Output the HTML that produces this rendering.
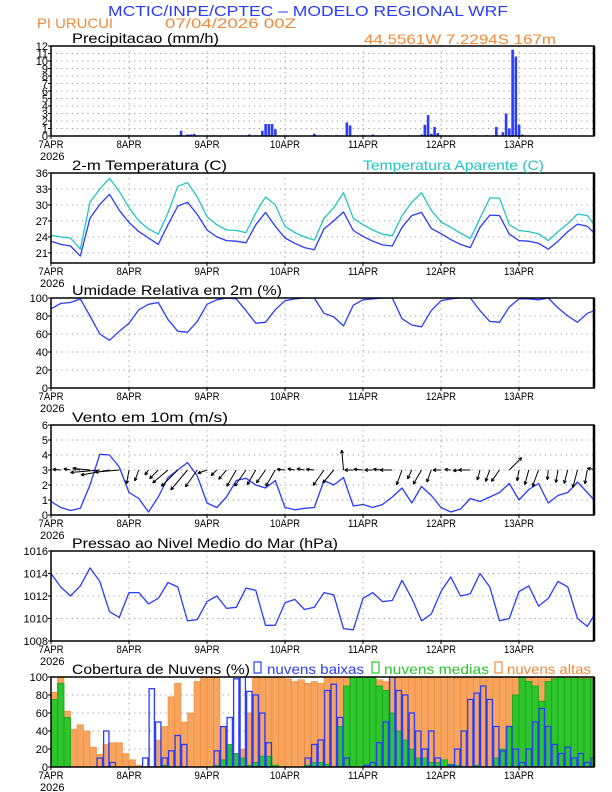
<!DOCTYPE html>
<html><head><meta charset="utf-8">
<style>
html,body{margin:0;padding:0;background:#fff;}
svg{display:block;font-family:"Liberation Sans",sans-serif;}
</style></head>
<body>
<svg id="chart" width="612" height="792" viewBox="0 0 612 792" xmlns="http://www.w3.org/2000/svg">
<rect x="0" y="0" width="612" height="792" fill="#fff"/>
<text x="108" y="16" font-size="15" fill="#2a3cff" textLength="400" lengthAdjust="spacingAndGlyphs">MCTIC/INPE/CPTEC – MODELO REGIONAL WRF</text>
<text x="37" y="28" font-size="14" fill="#f08a3a" textLength="76" lengthAdjust="spacingAndGlyphs">PI URUCUI</text>
<text x="165" y="28" font-size="14" fill="#f08a3a" textLength="131" lengthAdjust="spacingAndGlyphs">07/04/2026 00Z</text>
<text x="364" y="44" font-size="14" fill="#f08a3a" textLength="192" lengthAdjust="spacingAndGlyphs">44.5561W 7.2294S 167m</text>
<g id="g"></g>
</svg>
<script>
// ---------- data ----------
const days = ["7APR","8APR","9APR","10APR","11APR","12APR","13APR"];
// 3-hourly series (hours 0,3,...,168)
const temp = [23.2,22.6,22.3,20.4,27.5,30.1,32.0,29.0,26.7,25.0,23.8,22.6,26.3,29.8,30.5,28.2,25.3,24.0,23.3,23.2,22.9,26.3,28.6,26.0,23.8,22.8,22.0,21.6,25.5,27.0,28.7,25.2,24.1,23.2,22.5,22.3,25.8,28.0,28.6,25.6,24.6,23.5,22.6,22.0,25.8,28.1,28.0,24.5,23.3,23.2,22.8,21.7,23.2,25.0,26.4,26.0,24.2];
const tempAparente = [24.3,24.0,23.8,21.7,30.5,33.0,35.0,32.5,29.5,27.0,25.5,24.5,28.5,33.5,34.2,31.5,27.8,26.3,25.3,25.2,24.8,28.5,31.5,30.0,26.0,24.8,24.0,23.4,27.5,29.5,32.3,27.5,26.3,25.3,24.5,24.2,28.0,30.5,32.3,29.0,26.8,25.8,24.7,23.7,27.5,31.3,31.3,26.3,25.2,25.0,24.6,23.3,25.0,26.5,28.3,28.0,25.6];
const umidade = [88,94,95,99,80,60,53,63,72,87,93,95,76,63,62,74,93,98,100,99,86,72,73,87,97,99,100,100,83,79,69,92,98,99,100,100,77,70,68,86,97,99,100,100,86,74,73,90,99,99,98,100,89,80,73,83,87];
const vento = [0.9,0.5,0.3,0.45,2.0,4.05,4.0,3.2,1.5,1.1,0.2,1.2,2.5,3.0,3.5,2.6,0.8,0.5,1.2,2.3,2.45,2.0,1.8,2.3,0.5,0.35,0.45,0.5,2.3,2.0,2.5,0.6,0.7,0.5,0.7,1.2,1.8,0.8,1.9,1.3,0.5,0.2,0.4,1.1,0.9,1.2,1.5,2.1,1.0,1.7,2.1,0.8,1.3,1.5,2.2,1.5,0.8];
const ventoDir = [170,175,170,165,175,185,190,185,260,250,235,225,220,225,230,235,200,225,230,240,235,240,235,240,175,170,170,175,235,230,95,180,175,180,175,180,250,245,240,250,180,175,185,180,255,250,235,45,260,255,250,265,260,255,255,260,170];
const pressao = [1014.0,1012.8,1012.0,1012.9,1014.5,1013.3,1010.6,1010.1,1012.3,1012.3,1011.3,1011.8,1013.2,1012.8,1009.8,1009.9,1011.5,1012.0,1010.9,1011.0,1012.7,1012.5,1009.4,1009.4,1011.4,1011.7,1010.8,1011.0,1012.3,1012.1,1009.1,1009.0,1011.8,1012.3,1011.5,1011.6,1013.4,1011.8,1009.8,1010.4,1012.4,1013.7,1012.0,1012.2,1014.0,1012.8,1009.8,1010.0,1012.4,1012.9,1011.1,1011.8,1013.3,1012.8,1010.0,1009.3,1010.7];
// precipitation: hours and mm/h
const precipHora = [12,18,24,30,36,39,40,42,43,44,50,58,61,63,65,66,67,68,69,75,81,85,88,91,92,96,99,104,110,113,114,115,116,117,118,119,125,130,134,137,139,140,141,142,143,144,145];
const precipVal = [0.05,0.05,0.05,0.05,0.05,0.1,0.7,0.2,0.2,0.3,0.1,0.05,0.2,0.1,0.7,1.6,1.6,1.6,0.9,0.05,0.3,0.1,0.1,1.8,1.4,0.1,0.2,0.1,0.1,0.05,0.2,1.5,2.8,0.3,1.2,0.4,0.05,0.1,0.1,1.2,0.5,3.0,1.0,11.5,10.6,1.5,0.2];
// clouds, 2-hourly (hours 0,2,...,166)
const nuvensAltas = [83,100,62,42,47,40,22,14,25,27,27,15, 8,2,0,0,30,45,78,93,50,60,95,100, 100,100,45,22,15,20,60,100,100,100,100,100, 98,95,97,93,95,93,100,100,100,100,100,100, 100,100,97,95,100,100,100,100,100,100,100,100, 100,100,100,100,100,100,100,100,100,100,100,100, 100,100,100,100,100,100,100,100,100,100,100,100];
const nuvensMedias = [75,93,55,0,0,0,0,0,0,0,0,0, 0,0,0,0,0,2,0,0,0,0,0,0, 0,2,8,25,15,10,2,5,12,12,2,0, 0,0,0,2,5,5,3,0,45,90,100,100, 100,100,90,85,60,40,30,20,10,10,5,5, 8,3,2,0,0,2,0,0,10,20,45,80, 100,95,90,73,95,98,100,98,100,98,98,98];
const nuvensBaixas = [0,0,0,0,0,0,0,10,40,5,0,0, 0,0,10,87,50,10,18,35,25,0,0,0, 0,18,45,55,98,100,84,80,60,27,0,0, 0,0,0,10,25,30,85,92,55,10,0,0, 2,5,27,50,100,85,80,60,40,20,40,10, 0,2,20,40,75,82,90,75,45,18,45,20, 5,20,50,65,45,25,15,22,10,15,5,10];
const precipTicks = [0,1,2,3,4,5,6,7,8,9,10,11,12];
const tempTicks = [21,24,27,30,33,36];
const pctTicks = [0,20,40,60,80,100];
const ventoTicks = [0,1,2,3,4,5,6];
const pressTicks = [1008,1010,1012,1014,1016];

// ---------- layout ----------
const NS="http://www.w3.org/2000/svg";
const G=document.getElementById('g');
const X0=51, PXH=3.25, XR=594, PH=90;
const xs = h => X0 + h*PXH;
function mk(tag, attrs, parent){const e=document.createElementNS(NS,tag);for(const k in attrs)e.setAttribute(k,attrs[k]);(parent||G).appendChild(e);return e;}
function ysc(top,min,max){return v=> top+PH-(v-min)/(max-min)*PH;}

const panels=[
 {key:'precip',top:46,min:0,max:12,ticks:precipTicks,title:'Precipitacao (mm/h)',tw:147},
 {key:'temp',top:173,min:19.1,max:36,ticks:tempTicks,title:'2-m Temperatura (C)',tw:155},
 {key:'rh',top:298,min:0,max:100,ticks:pctTicks,title:'Umidade Relativa em 2m (%)',tw:210},
 {key:'wind',top:425,min:0,max:6,ticks:ventoTicks,title:'Vento em 10m (m/s)',tw:156},
 {key:'press',top:551,min:1008,max:1016,ticks:pressTicks,title:'Pressao ao Nivel Medio do Mar (hPa)',tw:266},
 {key:'cloud',top:677,min:0,max:100,ticks:pctTicks,title:'Cobertura de Nuvens (%)',tw:178}
];

panels.forEach(p=>{
  const y=ysc(p.top,p.min,p.max); p.y=y;
  const grp=mk('g',{});
  
  
  p.g=grp;
  const gr=mk('g',{},grp);
  
  
  p.ticks.forEach(t=>{
    const yy=y(t);
    if(yy>p.top+0.5 && yy<p.top+PH-0.5){
      const l=mk('line',{x1:X0,x2:XR,y1:yy,y2:yy,stroke:'#999','stroke-width':1,'stroke-dasharray':'1.2,4'},gr);
      
      
    }
    const tl=mk('text',{x:48,y:yy+4,'font-size':11,'text-anchor':'end',fill:'#000'},grp);
    tl.textContent=String(t);
    
    
    const tk=mk('line',{x1:X0-3,x2:X0,y1:yy,y2:yy,stroke:'#000','stroke-width':1},grp);
    
    
  });
  days.forEach((d,i)=>{
    const xx=xs(i*24);
    if(i>0){
      const l=mk('line',{x1:xx,x2:xx,y1:p.top,y2:p.top+PH,stroke:'#999','stroke-width':1,'stroke-dasharray':'1.2,4'},gr);
      
      
    }
    const tk=mk('line',{x1:xx,x2:xx,y1:p.top+PH,y2:p.top+PH+3,stroke:'#000','stroke-width':1},grp);
    
    
    const tl=mk('text',{x:xx,y:p.top+PH+12,'font-size':11,'text-anchor':'middle',fill:'#000',textLength:d.length>4?30:25,lengthAdjust:'spacingAndGlyphs'},grp);
    tl.textContent=d;
    
    
  });
  const yr=mk('text',{x:40,y:p.top+PH+24,'font-size':11,fill:'#000'},grp);
  yr.textContent='2026';
  
  
  const tt=mk('text',{x:72,y:p.top-3,'font-size':14,fill:'#000',textLength:p.tw,lengthAdjust:'spacingAndGlyphs'},grp);
  tt.textContent=p.title;
  
  
  const cp=mk('clipPath',{id:'clip-'+p.key},grp);
  mk('rect',{x:X0,y:p.top,width:XR-X0,height:PH},cp);
  p.plot=mk('g',{'clip-path':'url(#clip-'+p.key+')'},grp);
  
  
});

function line(p,arr,step,color,name){
  const pts=arr.map((v,i)=>xs(i*step).toFixed(1)+','+p.y(v).toFixed(1)).join(' ');
  const e=mk('polyline',{points:pts,fill:'none',stroke:color,'stroke-width':1.3,'stroke-linejoin':'round'},p.plot);
  
  
}

// precipitation bars
const P0=panels[0];
precipHora.forEach((h,i)=>{
  const v=precipVal[i];
  const b=mk('rect',{x:xs(h)-1.2,y:P0.y(v),width:2.6,height:Math.max(0.6,P0.y(0)-P0.y(v)),fill:'#2a3cff'},P0.plot);
  
  
});
// temperature
line(panels[1],tempAparente,3,'#22c4c4','apparent-temperature-line');
line(panels[1],temp,3,'#2a3cff','temperature-line');
// humidity
line(panels[2],umidade,3,'#2a3cff','humidity-line');
// wind
const PW=panels[3];
line(PW,vento,3,'#2a3cff','wind-speed-line');
vento.forEach((s,i)=>{
  const a=ventoDir[i]*Math.PI/180, L=5+s*6;
  const x1=xs(i*3), y1=PW.y(3), x2=x1+L*Math.cos(a), y2=y1-L*Math.sin(a);
  const ag=mk('g',{stroke:'#000','stroke-width':1,fill:'none'},PW.plot);
  
  
  mk('line',{x1:x1,y1:y1,x2:x2,y2:y2},ag);
  const hl=3.5;
  [a+Math.PI-0.45,a+Math.PI+0.45].forEach(b=>{
    mk('line',{x1:x2,y1:y2,x2:x2+hl*Math.cos(b),y2:y2-hl*Math.sin(b)},ag);
  });
});
// pressure
line(panels[4],pressao,3,'#2a3cff','pressure-line');
// clouds
const PC=panels[5], BW=2*PXH;
nuvensAltas.forEach((v,i)=>{
  const b=mk('rect',{x:xs(i*2),y:PC.y(v),width:BW,height:PC.y(0)-PC.y(v),fill:'#f6a45e',stroke:'#f2893a','stroke-width':0.6},PC.plot);
  
  
});
nuvensMedias.forEach((v,i)=>{
  if(v<=0)return;
  const b=mk('rect',{x:xs(i*2),y:PC.y(v),width:BW,height:PC.y(0)-PC.y(v),fill:'#2ec42e',stroke:'#12a812','stroke-width':0.8},PC.plot);
  
  
});
nuvensBaixas.forEach((v,i)=>{
  const b=mk('rect',{x:xs(i*2)+0.6,y:PC.y(v),width:BW-1.2,height:PC.y(0)-PC.y(v),fill:'none',stroke:'#2a3cff','stroke-width':1.3},PC.plot);
  
  
});

// frames
panels.forEach(p=>{
  const f=mk('rect',{x:X0,y:p.top,width:XR-X0,height:PH,fill:'none',stroke:'#000','stroke-width':1.5},p.g);
  
  
  const r=mk('line',{x1:XR,x2:XR,y1:p.top,y2:p.top+PH,stroke:'#000','stroke-width':2.5},p.g);
  
  
});

// extra labels
const ta=mk('text',{x:363,y:170,'font-size':14,fill:'#22c4c4',textLength:181,lengthAdjust:'spacingAndGlyphs'});
ta.textContent='Temperatura Aparente (C)';


const leg=[['nuvens baixas','#2a3cff',254,267,97,'legend-low-clouds'],['nuvens medias','#2ec42e',372,384,105,'legend-medium-clouds'],['nuvens altas','#f08a3a',495,507,84,'legend-high-clouds']];
leg.forEach(l=>{
  const lg=mk('g',{});
  
  
  mk('rect',{x:l[2],y:662,width:7,height:11,fill:'none',stroke:l[1],'stroke-width':1.2},lg);
  const t=mk('text',{x:l[3],y:674,'font-size':14,fill:l[1],textLength:l[4],lengthAdjust:'spacingAndGlyphs'},lg);
  t.textContent=l[0];
});
</script>
</body></html>
